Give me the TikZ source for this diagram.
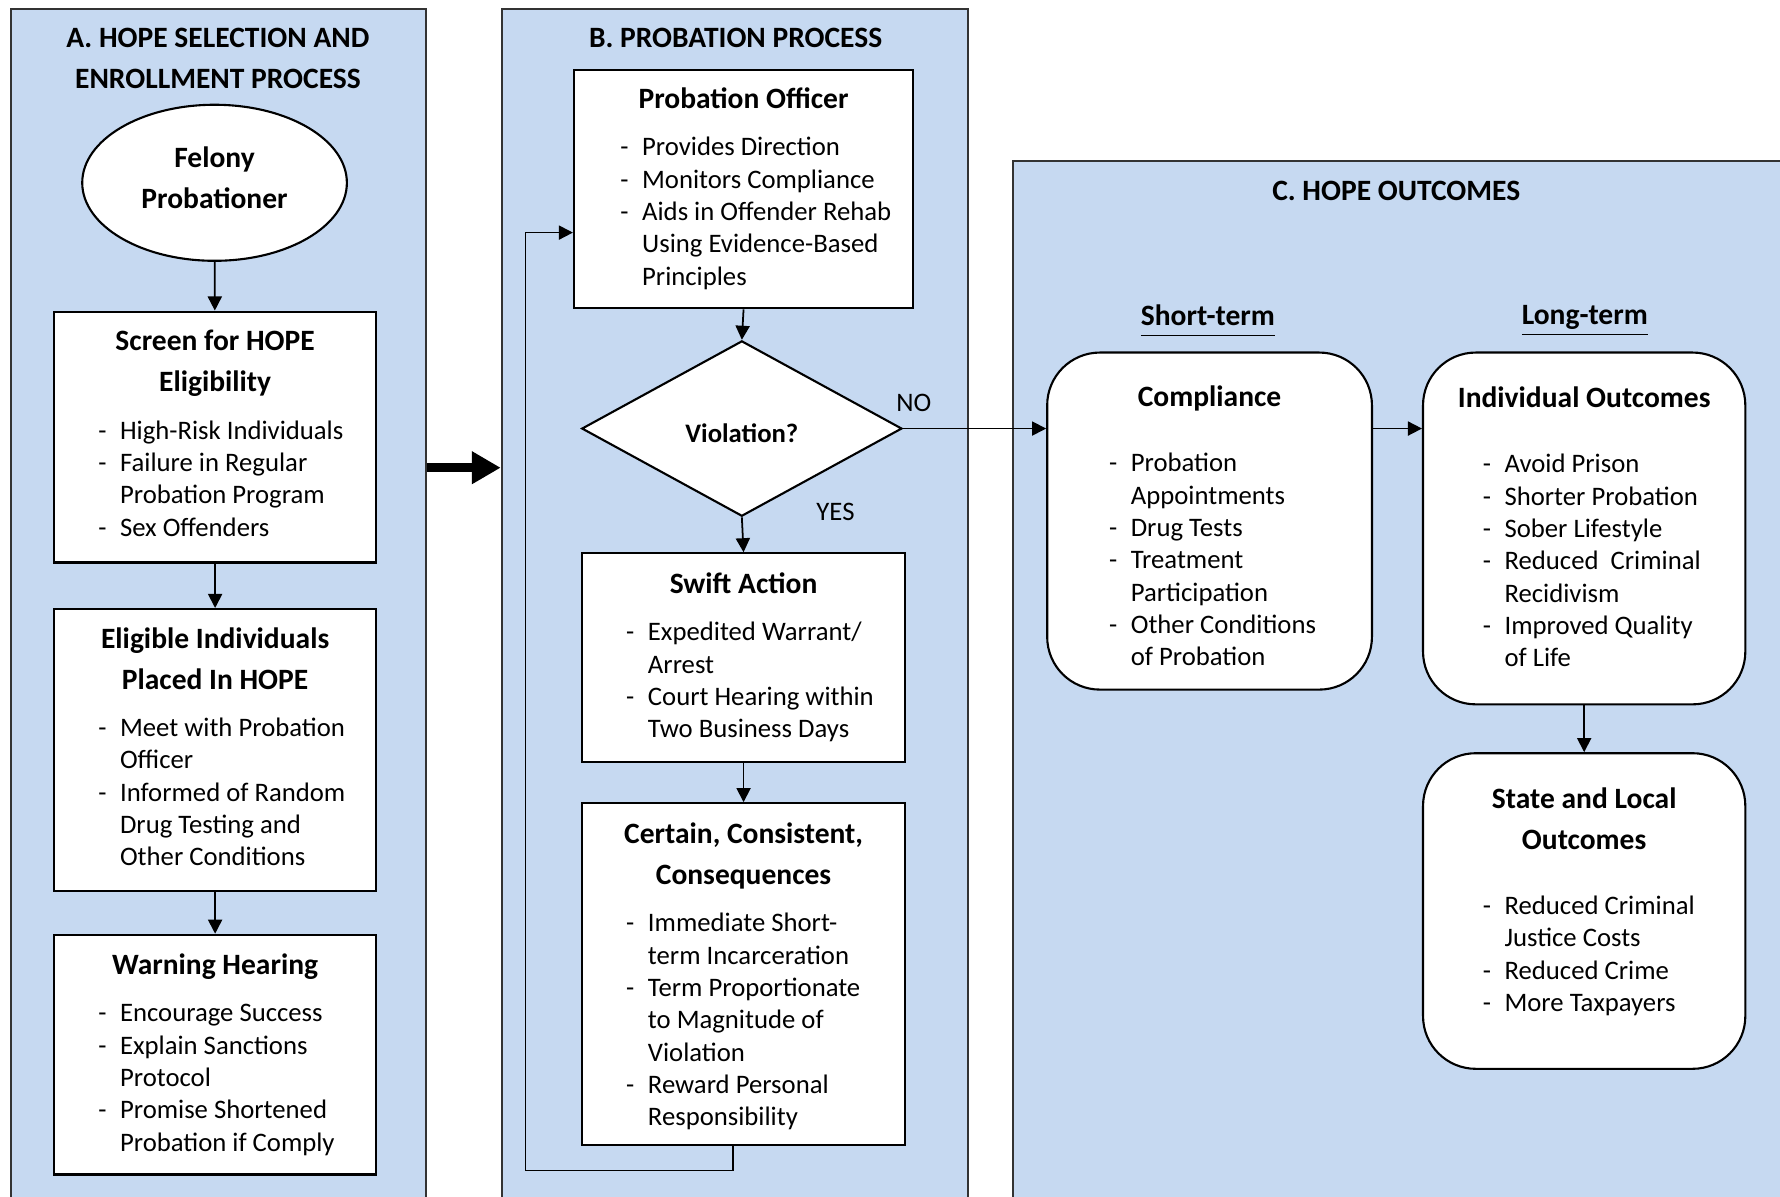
\documentclass[tikz,border=0pt]{standalone}
\usepackage{fontspec}
\setmainfont{Carlito}
\usetikzlibrary{arrows.meta,shapes.geometric,fit,positioning}
\definecolor{hopeblue}{HTML}{C6D9F1}
\setlength{\parindent}{0pt}
\newcommand{\hd}{\fontsize{8.4}{11.6}\selectfont\bfseries}
\newcommand{\bd}{\fontsize{7.6}{9.2}\selectfont}
% [bottom pad] heading, gap, indent, rows
\newcommand{\boxtext}[5][0pt]{\spaceskip=0pt\xspaceskip=0pt{\centering\hd #2\par}\vspace{#3}{\bd\hspace*{#4}\begin{tabular}[t]{@{}p{6.2pt}@{}l@{}}#5\end{tabular}\par}\vspace*{#1}\hrule height 0pt}
\newcommand{\nudge}[2]{\raisebox{#1}[\height][\depth]{#2}}
\tikzset{
 panel/.style={draw=black!80, fill=hopeblue, line width=0.6pt, inner sep=0pt},
 ttl/.style={font=\hd, align=center},
 lbl/.style={font=\bd},
 sqbox/.style={draw, fill=white, line width=0.6pt, inner sep=0pt},
 rndbox/.style={sqbox, rounded corners=15pt},
 arr/.style={-{Triangle[length=4pt,width=4pt]}, line width=0.5pt},
 bigarr/.style={-{Triangle[length=8.2pt,width=8.8pt]}, line width=2.7pt}
}
\begin{document}
\begin{tikzpicture}[x=0.11352mm, y=-0.11352mm]
 \useasboundingbox (0,0) rectangle (1568,1054);
 \clip (0,0) rectangle (1568,1054);
 % panels
 \node[panel, fit={(10,8) (375,1070)}] (pa) {};
 \node[panel, fit={(442,8) (853,1070)}] (pb) {};
 \node[panel, fit={(892,142) (1575,1070)}] (pc) {};
 \node[ttl] (ta) at (192,51.5) {A. HOPE SELECTION AND\\ENROLLMENT PROCESS};
 \node[ttl] (tb) at (648,33) {B. PROBATION PROCESS};
 \node[ttl] (tc) at (1230,168) {C. HOPE OUTCOMES};
 \node[ttl] (short) at (1064,283) {\underline{Short-term\vphantom{Lg}}};
 \node[ttl] (long) at (1396,283) {\underline{Long-term\vphantom{Lg}}};

 % A. selection
 \node[draw, fill=white, ellipse, line width=0.6pt, inner sep=0pt,
  minimum width=75.3pt, minimum height=44.4pt, font=\hd] (felony) at (189,161)
  {\nudge{0.9pt}{\begin{tabular}{@{}c@{}}Felony\\Probationer\end{tabular}}};
 \node[sqbox, text width=91.7pt, minimum height=71.4pt] (screen) at (189.5,385)
  {\boxtext[-0.6pt]{Screen for HOPE\\Eligibility}{4.3pt}{12.6pt}{
  -&High-Risk Individuals\\
  -&Failure in Regular\\
  &Probation Program\\
  -&Sex Offenders}};
 \node[sqbox, text width=91.7pt, minimum height=80.1pt] (eligible) at (189.5,660.5)
  {\boxtext[-1pt]{Eligible Individuals\\Placed In HOPE}{4.3pt}{12.6pt}{
  -&Meet with Probation\\
  &Officer\\
  -&Informed of Random\\
  &Drug Testing and\\
  &Other Conditions}};
 \node[sqbox, text width=91.7pt, minimum height=68.2pt] (warning) at (189.5,929)
  {\boxtext[-1.6pt]{Warning Hearing}{4.3pt}{12.6pt}{
  -&Encourage Success\\
  -&Explain Sanctions\\
  &Protocol\\
  -&Promise Shortened\\
  &Probation if Comply}};

 % B. probation
 \node[sqbox, text width=96.5pt, minimum height=67.9pt] (officer) at (655,166.5)
  {\boxtext[-1.3pt]{Probation Officer}{4.3pt}{13.2pt}{
  -&Provides Direction\\
  -&Monitors Compliance\\
  -&Aids in Offender Rehab\\
  &Using Evidence-Based\\
  &Principles}};
 \node[draw, fill=white, diamond, line width=0.6pt, inner sep=0pt,
  minimum width=91.1pt, minimum height=49.9pt, font=\fontsize{7.6}{9.2}\selectfont\bfseries]
  (violation) at (653.5,377.5) {\nudge{-1.3pt}{Violation?}};
 \node[sqbox, text width=92pt, minimum height=59.5pt] (swift) at (655,579.5)
  {\boxtext[-1.3pt]{Swift Action}{4.3pt}{12.6pt}{
  -&Expedited Warrant/\\
  &Arrest\\
  -&Court Hearing within\\
  &Two Business Days}};
 \node[sqbox, text width=92pt, minimum height=97.2pt] (certain) at (655,858)
  {\boxtext[-2.9pt]{Certain, Consistent,\\Consequences}{4.3pt}{12.6pt}{
  -&Immediate Short-\\
  &term Incarceration\\
  -&Term Proportionate\\
  &to Magnitude of\\
  &Violation\\
  -&Reward Personal\\
  &Responsibility}};
 \node[lbl] (no) at (805,355) {NO};
 \node[lbl] (yes) at (736,451) {YES};

 % C. outcomes
 \node[rndbox, text width=92.4pt, minimum height=95.9pt] (comply) at (1065.5,459)
  {\boxtext[-5.5pt]{Compliance}{9.3pt}{17.6pt}{
  -&Probation\\
  &Appointments\\
  -&Drug Tests\\
  -&Treatment\\
  &Participation\\
  -&Other Conditions\\
  &of Probation}};
 \node[rndbox, text width=91.7pt, minimum height=100.1pt] (indiv) at (1395.5,465.5)
  {\boxtext[-1.9pt]{Individual Outcomes}{9.3pt}{17pt}{
  -&Avoid Prison\\
  -&Shorter Probation\\
  -&Sober Lifestyle\\
  -&Reduced\ \ Criminal\\
  &Recidivism\\
  -&Improved Quality\\
  &of Life}};
 \node[rndbox, text width=91.7pt, minimum height=89.8pt] (state) at (1395.5,802.5)
  {\boxtext[3.7pt]{State and Local\\Outcomes}{9.3pt}{17pt}{
  -&Reduced Criminal\\
  &Justice Costs\\
  -&Reduced Crime\\
  -&More Taxpayers}};

 % connectors
 \draw[arr] (felony) -- (screen);
 \draw[arr] (screen) -- (eligible);
 \draw[arr] (eligible) -- (warning);
 \coordinate (bigy) at (0,412);
 \draw[bigarr] (pa.east |- bigy) -- (pb.west |- bigy);
 \draw[arr] (officer.south) -- (violation.north);
 \draw[arr] (violation.south) -- (swift.north);
 \draw[arr] (swift) -- (certain);
 \coordinate (loop) at (463,1031);
 \draw[arr] ([xshift=-2.9pt]certain.south) |- (loop) |- ([yshift=-12.4pt]officer.west);
 \draw[arr] (violation.east) -- (violation.east -| comply.west);
 \draw[arr] (comply.east |- violation.east) -- (indiv.west |- violation.east);
 \draw[arr] (indiv) -- (state);
\end{tikzpicture}
\end{document}
